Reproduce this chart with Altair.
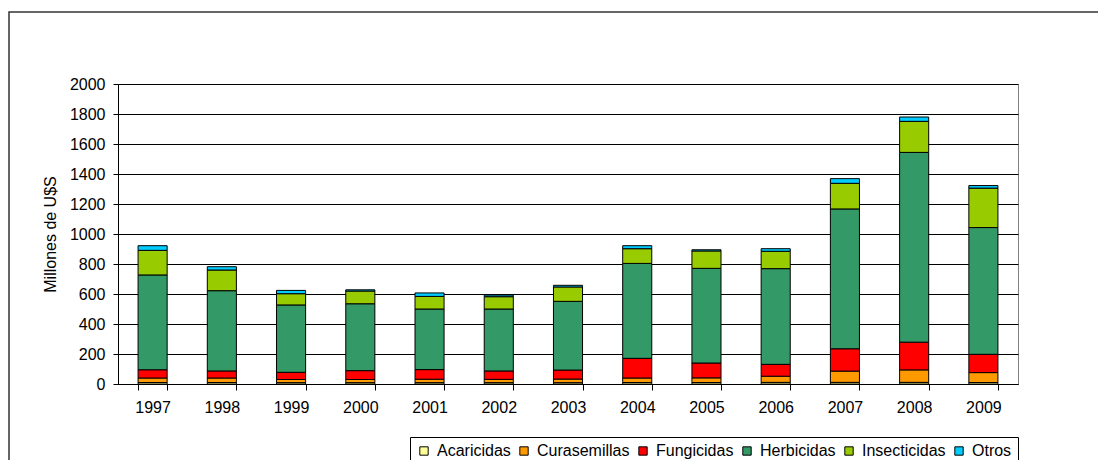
import altair as alt
import pandas as pd

years = ["1997", "1998", "1999", "2000", "2001", "2002", "2003",
         "2004", "2005", "2006", "2007", "2008", "2009"]
series = ["Acaricidas", "Curasemillas", "Fungicidas", "Herbicidas", "Insecticidas", "Otros"]
colors = ["#FFFF99", "#FF9900", "#FF0000", "#339966", "#99CC00", "#00CCFF"]

acaricidas   = [10, 10, 9, 9, 9, 9, 9, 10, 10, 11, 11, 11, 10]
curasemillas = [30, 30, 21, 21, 23, 22, 24, 30, 31, 41, 75, 83, 66]
fungicidas   = [55, 47, 48, 59, 64, 56, 60, 131, 99, 79, 149, 185, 122]
herbicidas   = [632, 535, 449, 446, 404, 413, 458, 633, 631, 638, 932, 1265, 845]
insecticidas = [164, 138, 75, 85, 84, 82, 96, 98, 116, 116, 171, 207, 263]
otros        = [31, 22, 22, 8, 23, 11, 11, 20, 8, 17, 31, 29, 17]

values = [acaricidas, curasemillas, fungicidas, herbicidas, insecticidas, otros]
rows = []
for i, yr in enumerate(years):
    for k, name in enumerate(series):
        rows.append({"Año": yr, "Tipo": name, "Valor": values[k][i], "orden": k})
df = pd.DataFrame(rows)

FONT = "Liberation Sans"

bars = alt.Chart(df).mark_bar(stroke="black", strokeWidth=1).encode(
    x=alt.X("Año:N", title=None, sort=years,
            scale=alt.Scale(paddingInner=0.58, paddingOuter=0.29),
            axis=alt.Axis(labelAngle=0, tickBand="extent", tickSize=6, labelPadding=9,
                          domainColor="black", tickColor="black", grid=False)),
    y=alt.Y("Valor:Q", stack="zero",
            scale=alt.Scale(domain=[0, 2000], nice=False),
            axis=alt.Axis(title="Millones de U$S", values=list(range(0, 2001, 200)),
                          format="d",
                          tickSize=5, labelPadding=8, grid=True, gridColor="#000000",
                          gridWidth=1, domainColor="black", tickColor="black",
                          titleX=-68, titleY=150, titleAngle=270,
                          titleBaseline="middle", titleAlign="center",
                          titleFontWeight="normal")),
    color=alt.Color("Tipo:N", scale=alt.Scale(domain=series, range=colors),
                    legend=alt.Legend(title=None, orient="none", legendX=292, legendY=353,
                                      direction="horizontal")),
    order=alt.Order("orden:Q", sort="ascending"),
)

frame = alt.Chart(alt.Data(values=[{"a": 1}])).mark_rect(
    fillOpacity=0, stroke="#333333", strokeWidth=1.5, clip=False
).encode(
    x=alt.value(-109), x2=alt.value(1300), y=alt.value(-72), y2=alt.value(700)
)

chart = alt.layer(frame, bars).properties(
    width=900, height=300,
    padding={"left": 110, "top": 76, "right": 80, "bottom": 76},
    autosize=alt.AutoSizeParams(type="none"),
    background="white",
).configure_view(
    stroke="#808080", strokeWidth=1
).configure_axis(
    labelFont=FONT, labelFontSize=16, labelColor="black",
    titleFont=FONT, titleFontSize=16, titleColor="black",
).configure_legend(
    strokeColor="black", padding=6, fillColor="white",
    symbolType="square", symbolSize=70, symbolStrokeColor="black",
    symbolStrokeWidth=1, labelFont=FONT, labelFontSize=16, labelColor="black",
    columnPadding=5, labelOffset=5,
)

chart.save("out.html", embed_options={"renderer": "svg", "actions": False})
